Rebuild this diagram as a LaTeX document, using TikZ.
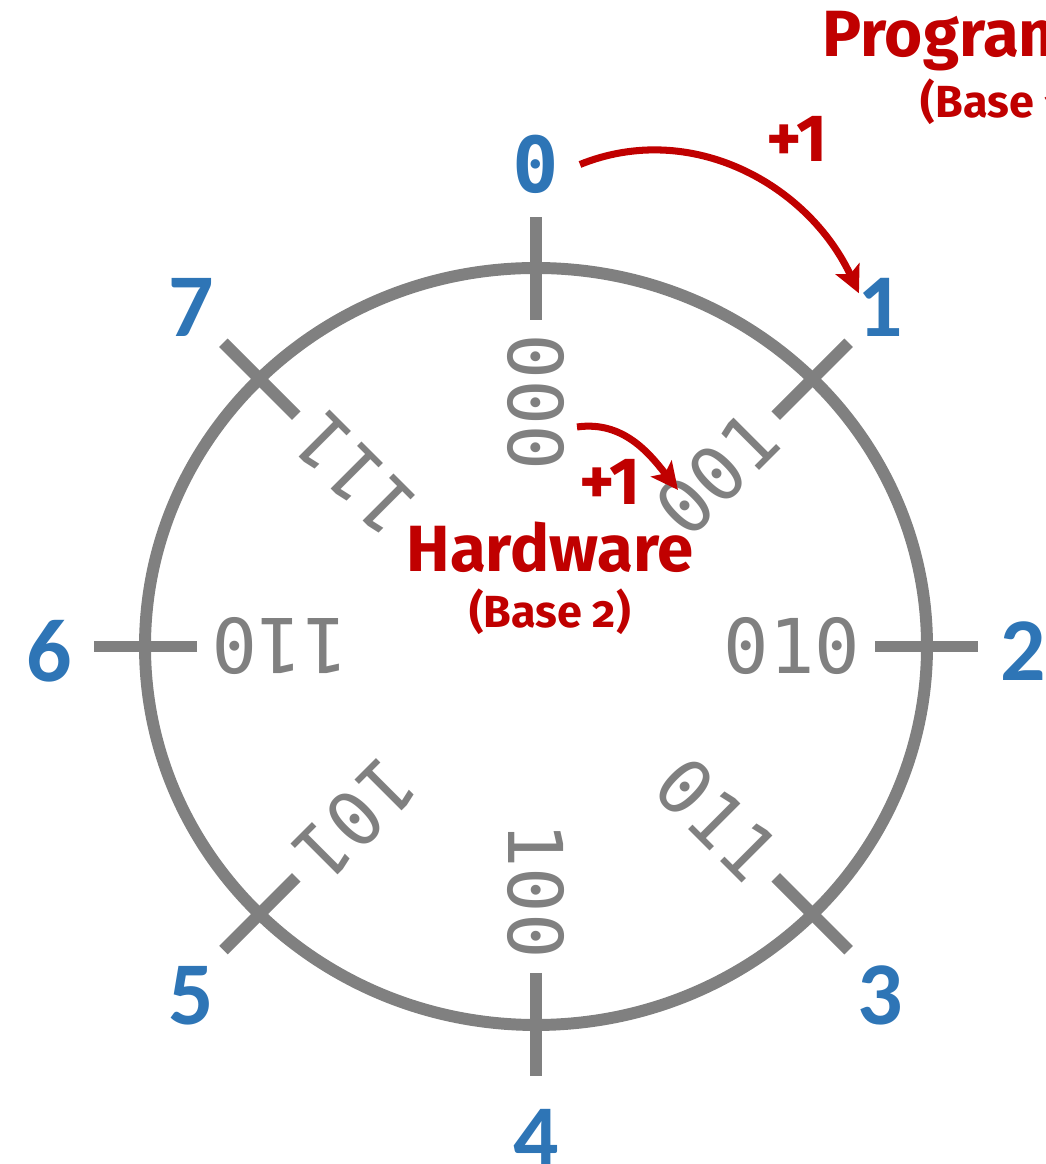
\documentclass[tikz,border=0pt]{standalone}
\usepackage{fontspec}
\usetikzlibrary{positioning, arrows.meta, calc}

\newfontfamily\digitfont{Carlito}
\newfontfamily\codefont{DejaVu Sans Mono}
\newfontfamily\notefont{Fira Sans}[Numbers=OldStyle]
\newfontfamily\plusfont{Fira Sans}

\definecolor{decblue}{HTML}{2E75B6}
\definecolor{hwred}{HTML}{C00000}
\definecolor{ringgray}{HTML}{808080}

\begin{document}
\begin{tikzpicture}[
  ring/.style={draw=ringgray, line width=3.4pt},
  ringtick/.style={draw=ringgray, line width=3.4pt},
  decnum/.style={text=decblue, inner sep=0pt,
    font=\digitfont\bfseries\fontsize{25.5}{30}\selectfont},
  binnum/.style={text=ringgray, inner sep=0pt,
    font=\codefont\fontsize{21.5}{25}\selectfont},
  title/.style={text=hwred, inner sep=0pt,
    font=\notefont\bfseries\fontsize{18.6}{22}\selectfont},
  basenote/.style={text=hwred, inner sep=0pt,
    font=\notefont\bfseries\fontsize{12.8}{15}\selectfont},
  plusone/.style={text=hwred, inner sep=0pt,
    font=\plusfont\bfseries\fontsize{19}{22}\selectfont},
  incr/.style={draw=hwred, line width=2pt,
    -{Stealth[length=2.7mm, width=2.6mm, inset=0.6mm]}},
]
\useasboundingbox (0,0) rectangle (10.46,11.64);
\clip (0,0) rectangle (10.46,11.64);

\coordinate (c) at (5.36,5.175);
\draw[ring] (c) ellipse [x radius=3.91, y radius=3.785];

% ticks, decimal labels outside, binary labels inside
\foreach \ang/\dec/\bin [count=\k from 0] in {
    90/{\codefont\fontsize{22}{26}\selectfont 0}/000,
    45/1/001, 0/2/010, -45/3/011,
    -90/4/100, -135/5/101, 180/6/110, 135/7/111}{
  \draw[ringtick] ($(c)+(\ang:3.39 and 3.265)$) -- ($(c)+(\ang:4.42 and 4.295)$);
  \node[decnum] (d\k) at ($(c)+(\ang:4.87 and 4.87)+(0,-0.05)$) {\dec};
  \node[binnum, rotate=\ang] (b\k) at ($(c)+(\ang:2.56 and 2.44)$) {\bin};
}

% program counter step
\draw[incr] ([xshift=2mm]d0.east) to[out=22, in=115] ([xshift=0.2mm, yshift=-1.6mm]d1.north west);
\node[plusone] (pgmplus) at (7.97,10.25) {+1};
\node[title, anchor=base west] (pgm) at (8.22,11.07) {Programmer};
\node[basenote, anchor=base west] (pgmbase) at (9.20,10.46) {(Base 10)};

% hardware step
\coordinate (hwfrom) at (5.77,7.37);
\coordinate (hwto) at (6.78,6.74);
\draw[incr] (hwfrom) to[out=8, in=128] (hwto);
\node[plusone] (hwplus) at (6.10,6.82) {+1};
\node[title, anchor=base] (hw) at (5.50,5.92) {Hardware};
\node[basenote, anchor=base] (hwbase) at (5.50,5.36) {(Base 2)};
\end{tikzpicture}
\end{document}
